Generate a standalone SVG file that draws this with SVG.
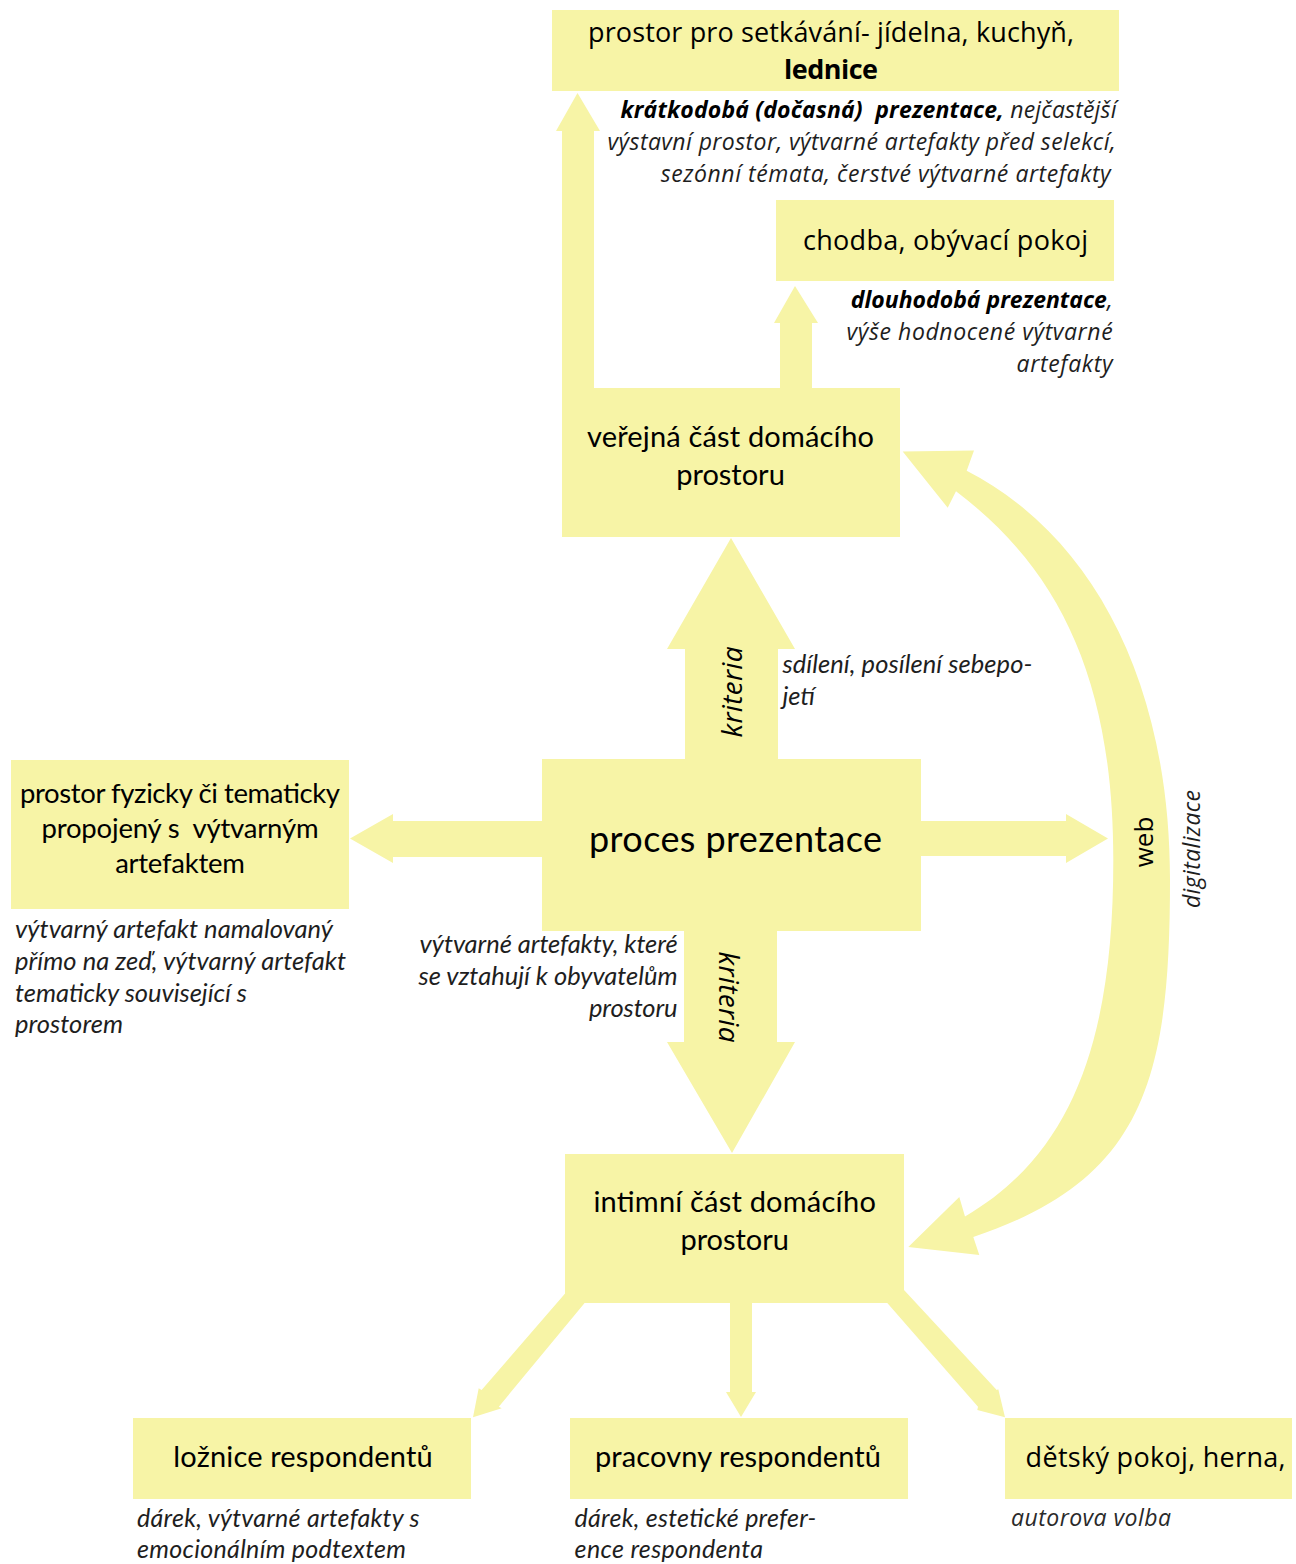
<svg xmlns="http://www.w3.org/2000/svg" width="1296" height="1564" viewBox="0 0 1296 1564">
<defs>
<style>
.fill{fill:#F7F4A6;}
.lbl{font-family:Lato,"Liberation Sans",sans-serif;font-size:29px;fill:#000;text-anchor:middle;}
.lbl2{font-family:"Open Sans","Noto Sans",sans-serif;font-size:27px;fill:#000;}
.it{font-family:Lato,"Liberation Sans",sans-serif;font-style:italic;font-size:25.5px;fill:#1e1e1e;}
.itl{font-family:Lato,"Liberation Sans",sans-serif;font-style:italic;font-size:25px;fill:#1e1e1e;}
.it2{font-family:"Open Sans","Noto Sans",sans-serif;font-style:italic;font-size:23px;fill:#1e1e1e;}
.b{font-weight:bold;fill:#000;}
.end{text-anchor:end;}
.mid{text-anchor:middle;}
.pre{white-space:pre;}
</style>
</defs>
<rect width="1296" height="1564" fill="#ffffff"/>

<g id="connectors" class="fill">
  <polygon id="arrow-kratkodoba" points="562,388 562,131 556,131 577.5,93 600,131 594,131 594,388"/>
  <polygon id="arrow-dlouhodoba" points="780,388 780,323 774,323 795,286 818,323 812,323 812,388"/>
  <polygon id="arrow-up-kriteria" points="685,760 685,649 667,649 731,538 795,649 778,649 778,760"/>
  <polygon id="arrow-down-kriteria" points="684,930 684,1042 667,1042 732,1153 795,1042 777,1042 777,930"/>
  <polygon id="arrow-left" points="543,821 393,821 393,814 350,838.5 393,863 393,857 543,857"/>
  <polygon id="arrow-right" points="920,821 1066,821 1066,814 1108,838.5 1066,863 1066,856 920,856"/>
  <path id="arrow-web" d="M 966.7,470.7 C 1091.2,534.8 1170,680 1170,880 C 1170,1080 1144.1,1179.9 973.3,1237 L 979.3,1255 L 908.3,1247 L 959.3,1197 L 965,1216.5 C 1077.5,1151.2 1113.3,1030 1113.3,860 C 1113.3,680 1059.9,569.6 956,491.3 L 947.7,507.8 L 902.7,451.6 L 974,450.6 Z"/>
  <polygon id="arrow-loznice" points="575,1282 566.6,1291.7 481.6,1390 478.7,1388.3 473,1417.3 501.7,1408.3 498.8,1406.7 583.8,1304 590,1296"/>
  <polygon id="arrow-pracovny" points="730,1302 730,1392 726,1392 741,1417 756,1392 752,1392 752,1302"/>
  <polygon id="arrow-detsky" points="895,1282 904,1290 996.7,1390 998.3,1389.3 1005,1417.3 977.3,1410 978,1406.7 887.3,1303 880,1296"/>
</g>

<g id="node-setkavani">
  <rect class="fill" x="552" y="10" width="567" height="81"/>
  <text class="lbl2 mid" x="831" y="42" textLength="486">prostor pro setkávání- jídelna, kuchyň,</text>
  <text class="lbl2 mid b" x="831" y="79" textLength="94">lednice</text>
</g>
<g id="note-kratkodoba">
  <text class="it2 end pre" x="1116.5" y="118" textLength="496"><tspan class="b">krátkodobá (dočasná)  prezentace,</tspan> nejčastější</text>
  <text class="it2 end" x="1115.6" y="150" textLength="508">výstavní prostor, výtvarné artefakty před selekcí,</text>
  <text class="it2 end" x="1110.7" y="182" textLength="450">sezónní témata, čerstvé výtvarné artefakty</text>
</g>

<g id="node-chodba">
  <rect class="fill" x="776" y="200" width="338" height="81"/>
  <text class="lbl2 mid" x="945.5" y="250" textLength="285">chodba, obývací pokoj</text>
</g>
<g id="note-dlouhodoba">
  <text class="it2 end" x="1112.6" y="308"><tspan class="b">dlouhodobá prezentace</tspan>,</text>
  <text class="it2 end" x="1112.6" y="340" textLength="266">výše hodnocené výtvarné</text>
  <text class="it2 end" x="1112.6" y="372" textLength="96">artefakty</text>
</g>

<g id="node-verejna">
  <rect class="fill" x="562" y="388" width="338" height="149"/>
  <text class="lbl" x="730.5" y="447" textLength="287">veřejná část domácího</text>
  <text class="lbl" x="730.5" y="485" textLength="108.6">prostoru</text>
</g>

<g id="label-kriteria-up">
  <text class="it2 mid" style="font-size:28px;fill:#000" x="742" y="692" textLength="91" transform="rotate(-90 742 692)">kriteria</text>
</g>
<g id="note-sdileni">
  <text class="it" x="782.4" y="673" textLength="250">sdílení, posílení sebepo-</text>
  <text class="it" x="782.4" y="705">jetí</text>
</g>

<g id="node-proces">
  <rect class="fill" x="542" y="759" width="379" height="172"/>
  <text class="lbl" style="font-size:36px" x="735.5" y="852" textLength="293">proces prezentace</text>
</g>

<g id="node-fyzicky">
  <rect class="fill" x="11" y="760" width="338" height="149"/>
  <text class="lbl" style="font-size:27.5px" x="180" y="803" textLength="320">prostor fyzicky či tematicky</text>
  <text class="lbl pre" style="font-size:27.5px" x="180" y="838" textLength="277">propojený s  výtvarným</text>
  <text class="lbl" style="font-size:27.5px" x="180" y="873" textLength="129.6">artefaktem</text>
</g>
<g id="note-fyzicky">
  <text class="it" x="15" y="938" textLength="318">výtvarný artefakt namalovaný</text>
  <text class="it" x="15" y="970" textLength="331">přímo na zeď, výtvarný artefakt</text>
  <text class="it" x="15" y="1002" textLength="232">tematicky související s</text>
  <text class="it" x="15" y="1033" textLength="108">prostorem</text>
</g>

<g id="note-obyvatele">
  <text class="it end" x="677.6" y="953" textLength="258">výtvarné artefakty, které</text>
  <text class="it end" x="677.6" y="985" textLength="259">se vztahují k obyvatelům</text>
  <text class="it end" x="677.6" y="1017" textLength="88.6">prostoru</text>
</g>

<g id="label-kriteria-down">
  <text class="it2 mid" style="font-size:28px;fill:#000" x="719" y="997" textLength="91" transform="rotate(90 719 997)">kriteria</text>
</g>

<g id="label-web">
  <text class="lbl2 mid" style="font-size:26px" x="1153" y="842" transform="rotate(-90 1153 842)">web</text>
  <text class="it2 mid" x="1200" y="849" textLength="118" transform="rotate(-90 1200 849)">digitalizace</text>
</g>

<g id="node-intimni">
  <rect class="fill" x="565" y="1154" width="339" height="149"/>
  <text class="lbl" x="734.7" y="1211.5" textLength="282.5">intimní část domácího</text>
  <text class="lbl" x="734.7" y="1249.5" textLength="108.6">prostoru</text>
</g>

<g id="node-loznice">
  <rect class="fill" x="133" y="1418" width="338" height="81"/>
  <text class="lbl" x="303" y="1467" textLength="259.4">ložnice respondentů</text>
</g>
<g id="note-loznice">
  <text class="itl" x="137" y="1527" textLength="282.6">dárek, výtvarné artefakty s</text>
  <text class="itl" x="137" y="1558" textLength="269">emocionálním podtextem</text>
</g>

<g id="node-pracovny">
  <rect class="fill" x="570" y="1418" width="338" height="81"/>
  <text class="lbl" x="738" y="1467" textLength="286">pracovny respondentů</text>
</g>
<g id="note-pracovny">
  <text class="itl" x="574.6" y="1527" textLength="241.7">dárek, estetické prefer-</text>
  <text class="itl" x="574.6" y="1558" textLength="188.4">ence respondenta</text>
</g>

<g id="node-detsky">
  <rect class="fill" x="1005" y="1418" width="287" height="81"/>
  <text class="lbl2" x="1025.6" y="1467" textLength="260">dětský pokoj, herna,</text>
</g>
<g id="note-detsky">
  <text class="it2" style="fill:#2a2a2a" x="1011" y="1526" textLength="160">autorova volba</text>
</g>
</svg>
